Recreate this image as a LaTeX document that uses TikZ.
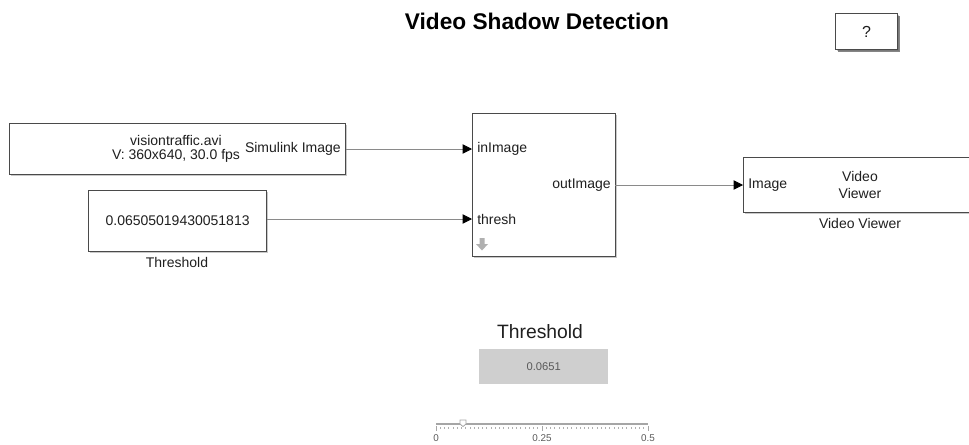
\documentclass[tikz,border=0pt]{standalone}
\usepackage{fontspec}
\setmainfont{Liberation Sans}
\usetikzlibrary{arrows.meta,shadows}
\definecolor{ink}{HTML}{1F1F1F}
\definecolor{edge}{HTML}{4A4A4A}
\definecolor{wire}{HTML}{8A8A8A}
\definecolor{panel}{HTML}{CFCFCF}
\definecolor{track}{HTML}{A6A6A6}
\definecolor{faint}{HTML}{B0B0B0}
\definecolor{readout}{HTML}{5A5A5A}
\newcommand{\titlefont}{\fontsize{17}{20}\selectfont\bfseries}
\newcommand{\blkfont}{\fontsize{10.5}{12.6}\selectfont}
\newcommand{\knobfont}{\fontsize{14.5}{17}\selectfont}
\newcommand{\readfont}{\fontsize{8.4}{10}\selectfont}
\newcommand{\scalefnt}{\fontsize{7.4}{9}\selectfont}
\tikzset{
  blkbox/.style={draw=edge,fill=white,line width=0.9pt,inner sep=0,anchor=north west,
    drop shadow={shadow xshift=1pt,shadow yshift=-1pt,fill=black!30,opacity=0.7}},
  sig/.style={wire,line width=0.6pt,-{Triangle[length=7pt,width=7pt,color=black]}},
  port/.style={inner sep=0,font=\blkfont,text=ink}
}

\begin{document}
\begin{tikzpicture}[x=0.75pt,y=-0.75pt,font=\blkfont,text=ink]
\useasboundingbox (0,0) rectangle (969,444);
% title and help button
\node[font=\titlefont,text=black] (title) at (537,21) {Video Shadow Detection};
\node[blkbox,minimum width=46.5pt,minimum height=27pt,
  drop shadow={shadow xshift=2pt,shadow yshift=-2pt,fill=black!60,opacity=0.8}] (help) at (835,13) {};
\node[font=\fontsize{12}{14}\selectfont] (helpq) at (help.center) {?};
% source blocks
\node[blkbox,minimum width=252pt,minimum height=38.25pt] (src) at (9,123) {};
\node[align=center,inner sep=0] (srcfile) at (176,149) {visiontraffic.avi\\[-2.2pt]V: 360x640, 30.0 fps};
\node[port,anchor=east] (srcout) at (341,149) {Simulink Image};
\node[blkbox,minimum width=133.5pt,minimum height=45.75pt] (thr) at (88,190) {};
\node (thrval) at (thr.center) {0.06505019430051813};
\node[port,anchor=north] (thrname) at (177,257) {Threshold};
% subsystem
\node[blkbox,minimum width=107.25pt,minimum height=107.25pt] (sub) at (472,113) {};
\coordinate (in1) at (472,149);
\coordinate (in2) at (472,219);
\coordinate (out1) at (615,185);
\node[port,anchor=west] (inimg) at (477,149) {inImage};
\node[port,anchor=west] (inthr) at (477,219) {thresh};
\node[port,anchor=east] (outimg) at (611,185) {outImage};
\fill[faint] (479.5,238) -- (484.5,238) -- (484.5,244) -- (488,244) -- (482,250.5) -- (476,244) -- (479.5,244) -- cycle;
% viewer
\node[blkbox,minimum width=192.75pt,minimum height=41.25pt] (view) at (743,157) {};
\coordinate (vin) at (743,185);
\node[port,anchor=west] (viewin) at (748,185) {Image};
\node[align=center,inner sep=0] (viewtxt) at (860,185) {Video\\Viewer};
\node[port,anchor=north] (viewname) at (860,218) {Video Viewer};
% wires
\draw[sig] (src.east |- in1) -- (in1);
\draw[sig] (thr.east |- in2) -- (in2);
\draw[sig] (out1) -- (vin);
% threshold knob panel
\node[font=\knobfont] (knobname) at (540,332) {Threshold};
\node[fill=panel,minimum width=96.75pt,minimum height=26.25pt,inner sep=0,anchor=north west] (knob) at (479,349) {};
\node[font=\readfont,text=readout] (knobval) at (knob.center) {0.0651};
\draw[track,line width=2pt] (436,424) -- (648,424);
\foreach \k in {0,...,50}
  \draw[faint,line width=0.6pt] ({436+\k*4.24},427) -- ++(0,2);
\foreach \k/\lab in {0/0,1/0.25,2/0.5} {
  \draw[track,line width=0.6pt] ({436+\k*106},426) -- ++(0,5);
  \node[font=\scalefnt,text=readout,inner sep=0] (tick\k) at ({436+\k*106},438) {\lab};
}
\filldraw[fill=white,draw=track,line width=0.6pt] (460,420) -- (466,420) -- (466,424) -- (463,426.5) -- (460,424) -- cycle;
\end{tikzpicture}
\end{document}
